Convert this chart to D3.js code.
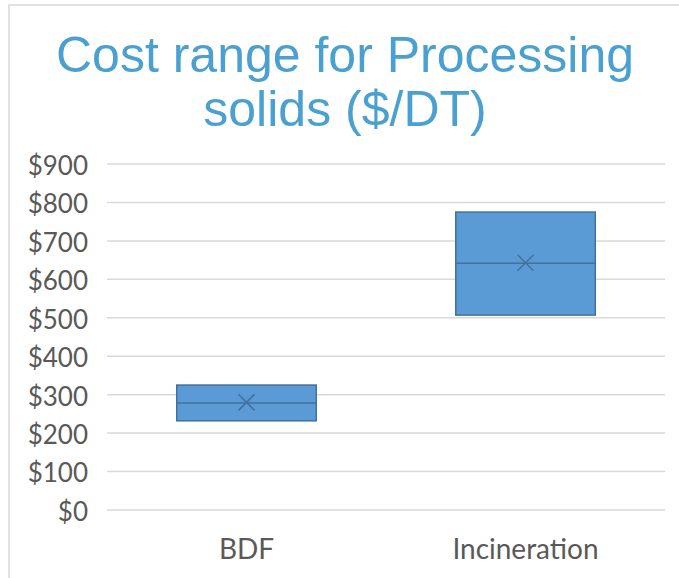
<!DOCTYPE html>
<html lang="en">
<head>
<meta charset="UTF-8">
<title>Cost range for Processing solids</title>
<style>
  body { margin: 0; background: #fff; }
  .title { font-family: "Liberation Sans", Arial, sans-serif; fill: #4aa0d0; }
  .tick-label { font-family: Lato, "Open Sans", sans-serif; fill: #595959; }
  .grid line { stroke: #d9d9d9; stroke-width: 1.5px; }
</style>
</head>
<body>
<script src="https://d3js.org/d3.v7.min.js"></script>
<script>
// box values ($/DT)
const categories = ["BDF", "Incineration"];
const q1 = [232, 507];
const median = [278, 642];
const q3 = [325, 775];
const mean = [280, 643];
const yTicks = [0, 100, 200, 300, 400, 500, 600, 700, 800, 900];

const width = 679, height = 578;
const plot = { left: 107, right: 665, top: 164, bottom: 510 };

const svg = d3.select("body").append("svg")
  .attr("width", width)
  .attr("height", height);

// chart frame
svg.append("path")
  .attr("d", `M9,${height}V5H${width}`)
  .attr("fill", "none")
  .attr("stroke", "#d9d9d9")
  .attr("stroke-width", 1.5);

// title
const title = svg.append("text")
  .attr("class", "title")
  .attr("text-anchor", "middle")
  .attr("font-size", 50);
title.append("tspan").attr("x", 345).attr("y", 72).text("Cost range for Processing");
title.append("tspan").attr("x", 345).attr("y", 126).text("solids ($/DT)");

const x = d3.scaleBand().domain(categories).range([plot.left, plot.right]).paddingInner(0).paddingOuter(0);
const y = d3.scaleLinear().domain([0, 900]).range([plot.bottom, plot.top]);

// gridlines
svg.append("g").attr("class", "grid")
  .selectAll("line")
  .data(yTicks)
  .enter()
  .append("line")
  .attr("x1", plot.left)
  .attr("x2", plot.right)
  .attr("y1", d => y(d))
  .attr("y2", d => y(d));

// y axis labels
svg.selectAll("text.ylab")
  .data(yTicks)
  .enter()
  .append("text")
  .attr("class", "tick-label ylab")
  .attr("x", 88)
  .attr("y", d => y(d))
  .attr("dy", "0.42em")
  .attr("text-anchor", "end")
  .attr("font-size", 26)
  .text(d => "$" + d);

// x category labels
svg.selectAll("text.xlab")
  .data(categories)
  .enter()
  .append("text")
  .attr("class", "tick-label xlab")
  .attr("x", d => x(d) + x.bandwidth() / 2)
  .attr("y", 559)
  .attr("text-anchor", "middle")
  .attr("font-size", 28)
  .text(d => d);

// boxes
const boxW = x.bandwidth() * 0.5;
const boxes = svg.selectAll("g.box")
  .data(categories.map((c, i) => ({ cat: c, q1: q1[i], med: median[i], q3: q3[i], mean: mean[i] })))
  .enter()
  .append("g")
  .attr("class", "box");

boxes.append("rect")
  .attr("x", d => x(d.cat) + x.bandwidth() / 2 - boxW / 2)
  .attr("y", d => y(d.q3))
  .attr("width", boxW)
  .attr("height", d => y(d.q1) - y(d.q3))
  .attr("fill", "#5b9bd5")
  .attr("stroke", "#41719c")
  .attr("stroke-width", 1.5);

boxes.append("line")
  .attr("x1", d => x(d.cat) + x.bandwidth() / 2 - boxW / 2)
  .attr("x2", d => x(d.cat) + x.bandwidth() / 2 + boxW / 2)
  .attr("y1", d => y(d.med))
  .attr("y2", d => y(d.med))
  .attr("stroke", "#41719c")
  .attr("stroke-width", 1.5);

// mean marker (x)
const m = 8;
boxes.append("path")
  .attr("d", d => {
    const cx = x(d.cat) + x.bandwidth() / 2, cy = y(d.mean);
    return `M${cx - m},${cy - m}L${cx + m},${cy + m}M${cx - m},${cy + m}L${cx + m},${cy - m}`;
  })
  .attr("stroke", "#41719c")
  .attr("stroke-width", 1.5)
  .attr("fill", "none");
</script>
</body>
</html>
